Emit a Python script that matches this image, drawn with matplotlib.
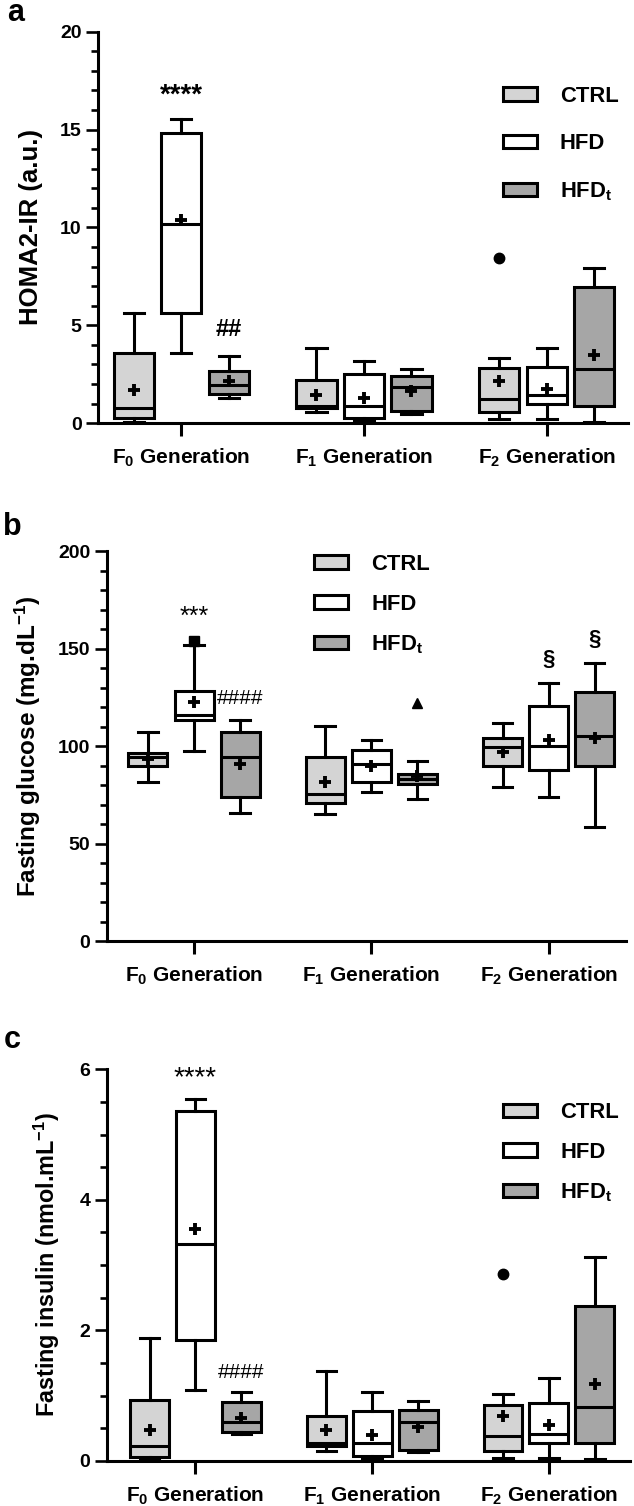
import matplotlib
matplotlib.use('Agg')
import matplotlib.pyplot as plt
from matplotlib.patches import Patch
from matplotlib.ticker import MultipleLocator

# data: rows = CTRL, HFD, HFDt ; columns = F0, F1, F2
groups = ['CTRL', 'HFD', 'HFD$_\\mathregular{t}$']
generations = ['F$_0$ Generation', 'F$_1$ Generation', 'F$_2$ Generation']

homa_lo = [[0.08, 0.55, 0.20], [3.60, 0.15, 0.20], [1.28, 0.46, 0.08]]
homa_q1 = [[0.29, 0.77, 0.55], [5.65, 0.29, 1.00], [1.51, 0.63, 0.89]]
homa_med = [[0.77, 0.89, 1.23], [10.16, 0.89, 1.45], [1.96, 1.86, 2.79]]
homa_q3 = [[3.60, 2.21, 2.81], [14.80, 2.50, 2.88], [2.67, 2.42, 6.96]]
homa_hi = [[5.65, 3.86, 3.35], [15.56, 3.18, 3.86], [3.44, 2.76, 7.95]]
homa_mean = [[1.70, 1.45, 2.13], [10.40, 1.28, 1.74], [2.13, 1.65, 3.49]]
homa_out = [(0, 2, 8.46, 'o')]

gluc_lo = [[81.8, 65.4, 79.0], [97.8, 76.5, 73.9], [65.9, 72.7, 58.8]]
gluc_q1 = [[89.8, 71.0, 89.8], [113.5, 81.9, 87.6], [74.1, 80.4, 90.1]]
gluc_med = [[94.5, 75.5, 99.7], [115.8, 91.1, 100.0], [94.4, 83.0, 105.1]]
gluc_q3 = [[96.3, 94.4, 104.3], [128.1, 98.3, 120.4], [107.2, 85.9, 127.6]]
gluc_hi = [[107.3, 110.2, 111.9], [151.8, 103.4, 132.4], [113.5, 92.3, 142.6]]
gluc_mean = [[93.5, 81.9, 96.9], [122.8, 90.1, 103.4], [91.1, 84.7, 104.3]]
gluc_out = [(1, 0, 154.2, 's'), (2, 1, 122.1, '^')]

ins_lo = [[0.01, 0.15, 0.04], [1.08, 0.03, 0.04], [0.41, 0.13, 0.03]]
ins_q1 = [[0.06, 0.23, 0.15], [1.85, 0.08, 0.28], [0.44, 0.17, 0.27]]
ins_med = [[0.23, 0.27, 0.38], [3.32, 0.27, 0.41], [0.60, 0.60, 0.82]]
ins_q3 = [[0.93, 0.69, 0.86], [5.36, 0.76, 0.88], [0.90, 0.78, 2.38]]
ins_hi = [[1.88, 1.37, 1.03], [5.55, 1.05, 1.27], [1.05, 0.91, 3.13]]
ins_mean = [[0.47, 0.47, 0.68], [3.55, 0.39, 0.55], [0.66, 0.52, 1.18]]
ins_out = [(0, 2, 2.87, 'o')]

fills = ['#d4d4d4', '#ffffff', '#a6a6a6']

plt.rcParams['font.family'] = ['Liberation Sans', 'DejaVu Sans']
plt.rcParams['font.weight'] = 'bold'
plt.rcParams['mathtext.fontset'] = 'custom'
plt.rcParams['mathtext.rm'] = 'Liberation Sans:bold'
plt.rcParams['mathtext.bf'] = 'Liberation Sans:bold'
plt.rcParams['mathtext.default'] = 'rm'

LW = 2.2
offs = [-0.26, 0.0, 0.26]

fig = plt.figure(figsize=(6.34, 15.06), dpi=100)


def panel(rect, lo, q1, med, q3, hi, mean, outs, ylim, major, minor, ylabel,
          ylabsize, xlim, ylabx, leg_xy, legsp):
    ax = fig.add_axes(rect)
    for g in range(3):
        stats = []
        for k in range(3):
            stats.append(dict(whislo=lo[g][k], q1=q1[g][k], med=med[g][k],
                              q3=q3[g][k], whishi=hi[g][k], mean=mean[g][k],
                              fliers=[]))
        ax.bxp(stats, positions=[k + offs[g] for k in range(3)], widths=0.22,
               patch_artist=True, showmeans=True, capwidths=0.11,
               boxprops=dict(facecolor=fills[g], edgecolor='black', linewidth=LW),
               medianprops=dict(color='black', linewidth=LW),
               whiskerprops=dict(color='black', linewidth=LW),
               capprops=dict(color='black', linewidth=LW),
               meanprops=dict(marker='+', markersize=8, markeredgewidth=2.8,
                              markeredgecolor='black'))
    for g, k, v, m in outs:
        ax.plot(k + offs[g], v, marker=m, color='black', markersize=7.5, zorder=5)
    ax.set_xlim(*xlim)
    ax.set_ylim(*ylim)
    ax.yaxis.set_major_locator(MultipleLocator(major))
    ax.yaxis.set_minor_locator(MultipleLocator(minor))
    ax.set_xticks(range(3))
    ax.set_xticklabels(generations)
    for s in ['top', 'right']:
        ax.spines[s].set_visible(False)
    for s in ['left', 'bottom']:
        ax.spines[s].set_linewidth(LW)
    ax.tick_params(axis='x', length=9, width=LW, pad=8)
    ax.tick_params(axis='y', which='major', length=9, width=1.9, pad=3)
    ax.tick_params(axis='y', which='minor', length=5, width=1.9)
    for t in ax.get_xticklabels():
        t.set_fontsize(15)
        t.set_fontweight('bold')
    for t in ax.get_yticklabels():
        t.set_fontsize(14)
        t.set_fontweight('bold')
    ax.set_ylabel(ylabel, fontsize=ylabsize, fontweight='bold')
    ax.yaxis.set_label_coords(ylabx, 0.5)
    handles = [Patch(facecolor=c, edgecolor='black', linewidth=LW) for c in fills]
    leg = ax.legend(handles, groups, loc='center left', bbox_to_anchor=leg_xy,
                    frameon=False, fontsize=15.8, handlelength=1.55,
                    handleheight=0.55, labelspacing=legsp, handletextpad=1.05,
                    borderpad=0, borderaxespad=0)
    for t in leg.get_texts():
        t.set_fontweight('bold')
    return ax


axa = panel([0.155, 0.719, 0.835, 0.260], homa_lo, homa_q1, homa_med, homa_q3,
            homa_hi, homa_mean, homa_out, (0, 20), 5, 1, 'HOMA2-IR (a.u.)', 18.5,
            (-0.454, 2.443), -0.104, (0.764, 0.712), 1.2)
axa.text(0, 16.75, '****', ha='center', va='center', fontsize=20, fontweight='bold')
axa.text(0.26, 4.8, '##', ha='center', va='center', fontsize=17, fontweight='bold')

axb = panel([0.169, 0.375, 0.818, 0.259], gluc_lo, gluc_q1, gluc_med, gluc_q3,
            gluc_hi, gluc_mean, gluc_out, (0, 200), 50, 10,
            'Fasting glucose (mg.dL$^{-1}$)', 17.5, (-0.49, 2.435), -0.123,
            (0.399, 0.862), 0.86)
axb.text(0, 166.5, '***', ha='center', va='center', fontsize=18, fontweight='normal')
axb.text(0.26, 124.7, '####', ha='center', va='center', fontsize=15, fontweight='normal')
axb.text(2, 144.3, '§', ha='center', va='center', fontsize=16, fontweight='bold')
axb.text(2.26, 154.5, '§', ha='center', va='center', fontsize=16, fontweight='bold')

axc = panel([0.169, 0.030, 0.825, 0.260], ins_lo, ins_q1, ins_med, ins_q3,
            ins_hi, ins_mean, ins_out, (0, 6), 2, 0.5,
            'Fasting insulin (nmol.mL$^{-1}$)', 16.8, (-0.50, 2.46), -0.086,
            (0.757, 0.786), 0.86)
axc.text(0, 5.86, '****', ha='center', va='center', fontsize=20, fontweight='normal')
axc.text(0.26, 1.36, '####', ha='center', va='center', fontsize=15, fontweight='normal')

fig.text(0.012, 1 - 21 / 1506, 'a', fontsize=22, fontweight='bold', va='baseline')
fig.text(0.004, 1 - 535 / 1506, 'b', fontsize=22, fontweight='bold', va='baseline')
fig.text(0.006, 1 - 1048 / 1506, 'c', fontsize=22, fontweight='bold', va='baseline')

fig.savefig('out.png', dpi=100)
